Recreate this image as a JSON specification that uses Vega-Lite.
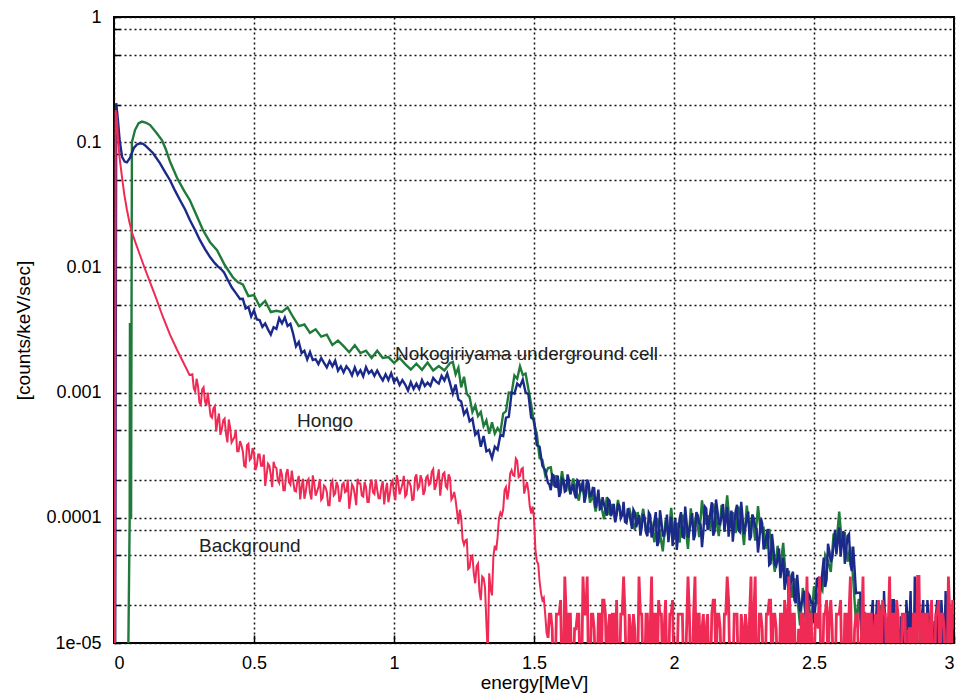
{
"$schema": "https://vega.github.io/schema/vega-lite/v6.json",
"width": 840, "height": 626,
"autosize": {"type": "none"},
"padding": {"left": 114, "top": 17, "right": 12, "bottom": 53},
"background": "white",
"config": {
 "view": {"stroke": "black", "strokeWidth": 2},
 "font": "Liberation Sans",
 "axis": {"labelFont": "Liberation Sans", "titleFont": "Liberation Sans", "labelColor": "black", "titleColor": "black", "titleFontWeight": "normal", "domain": false, "grid": true, "gridColor": "#111", "gridDash": [2, 3], "gridWidth": 1.5, "gridOpacity": 1, "tickColor": "black", "tickWidth": 1.5}
},
"datasets": {
"green": [
{"e":0.045,"c":5e-6},{"e":0.05,"c":5e-6},{"e":0.056,"c":1e-4},{"e":0.057,"c":0.0036},{"e":0.058,"c":1e-4},{"e":0.061,"c":1e-4},{"e":0.064,"c":0.1},{"e":0.075,"c":0.125},{"e":0.088,"c":0.142},{"e":0.1,"c":0.146},{"e":0.115,"c":0.143},{"e":0.129,"c":0.137},{"e":0.15,"c":0.12},{"e":0.171,"c":0.104},{"e":0.185,"c":0.088},{"e":0.2,"c":0.07},{"e":0.225,"c":0.052},{"e":0.25,"c":0.041},{"e":0.271,"c":0.0344},{"e":0.295,"c":0.026},{"e":0.318,"c":0.0198},{"e":0.343,"c":0.0159},{"e":0.368,"c":0.0137},{"e":0.396,"c":0.0104},{"e":0.425,"c":0.0083},{"e":0.443,"c":0.0076},
{"e":0.46,"c":0.0073},{"e":0.48,"c":0.0059},{"e":0.5,"c":0.006},{"e":0.52,"c":0.0049},{"e":0.54,"c":0.0054},{"e":0.56,"c":0.0044},{"e":0.58,"c":0.0045},{"e":0.6,"c":0.0044},{"e":0.62,"c":0.0048},{"e":0.64,"c":0.004},{"e":0.66,"c":0.0034},{"e":0.68,"c":0.0035},{"e":0.7,"c":0.003},{"e":0.72,"c":0.0032},{"e":0.74,"c":0.0028},{"e":0.76,"c":0.0029},{"e":0.78,"c":0.0024},{"e":0.8,"c":0.0026},{"e":0.82,"c":0.00235},{"e":0.84,"c":0.0021},{"e":0.86,"c":0.00239},{"e":0.88,"c":0.00207},{"e":0.9,"c":0.00216},{"e":0.92,"c":0.00189},{"e":0.94,"c":0.00216},{"e":0.96,"c":0.00189},{"e":0.98,"c":0.00192},{"e":1.0,"c":0.00173},{"e":1.02,"c":0.00189},{"e":1.04,"c":0.00169},{"e":1.06,"c":0.00153},{"e":1.08,"c":0.0017},{"e":1.1,"c":0.00152},{"e":1.12,"c":0.00174},{"e":1.14,"c":0.0015},{"e":1.16,"c":0.00163},{"e":1.18,"c":0.0015},{"e":1.2,"c":0.00172},
{"e":1.21,"c":0.00176},{"e":1.22,"c":0.0014},{"e":1.23,"c":0.00158},{"e":1.24,"c":0.0011},{"e":1.25,"c":0.00134},{"e":1.26,"c":0.00098},{"e":1.27,"c":0.00092},{"e":1.28,"c":0.0007},{"e":1.29,"c":0.00079},{"e":1.3,"c":0.00065},{"e":1.31,"c":0.0007},{"e":1.32,"c":0.00054},{"e":1.33,"c":0.0006},{"e":1.34,"c":0.00047},{"e":1.35,"c":0.00058},{"e":1.36,"c":0.00047},{"e":1.37,"c":0.00052},{"e":1.38,"c":0.00048},{"e":1.39,"c":0.00068},{"e":1.4,"c":0.00071},{"e":1.41,"c":0.001},{"e":1.42,"c":0.00099},{"e":1.43,"c":0.00137},{"e":1.44,"c":0.00129},{"e":1.45,"c":0.00162},{"e":1.46,"c":0.00138},{"e":1.47,"c":0.00142},{"e":1.48,"c":0.00107},{"e":1.49,"c":0.0008},{"e":1.5,"c":0.00057},{"e":1.51,"c":0.00047},{"e":1.52,"c":0.0003},{"e":1.53,"c":0.00029},{"e":1.54,"c":0.00022},{"e":1.55,"c":0.00025},
{"e":1.56,"c":0.000253},{"e":1.57,"c":0.000179},{"e":1.58,"c":0.000219},{"e":1.59,"c":0.00016},{"e":1.6,"c":0.000236},{"e":1.61,"c":0.000175},{"e":1.62,"c":0.00019},{"e":1.63,"c":0.000155},{"e":1.64,"c":0.000206},{"e":1.65,"c":0.000167},{"e":1.66,"c":0.000137},{"e":1.67,"c":0.000189},{"e":1.68,"c":0.000148},{"e":1.69,"c":0.000198},{"e":1.7,"c":0.000132},{"e":1.71,"c":0.000152},{"e":1.72,"c":0.000112},{"e":1.73,"c":0.000149},{"e":1.74,"c":0.000125},{"e":1.75,"c":0.0000975},{"e":1.76,"c":0.000146},{"e":1.77,"c":0.000105},{"e":1.78,"c":0.000129},{"e":1.79,"c":0.0000944},{"e":1.8,"c":0.000139},{"e":1.81,"c":0.000103},{"e":1.82,"c":0.000112},{"e":1.83,"c":0.0000913},{"e":1.84,"c":0.00012},{"e":1.85,"c":0.0000977},{"e":1.86,"c":0.0000803},{"e":1.87,"c":0.000111},{"e":1.88,"c":0.000088},{"e":1.89,"c":0.000118},{"e":1.9,"c":0.00008},
{"e":1.91,"c":0.0000774},{"e":1.92,"c":0.000088},{"e":1.93,"c":0.0000638},{"e":1.94,"c":0.0000996},{"e":1.95,"c":0.0000747},{"e":1.96,"c":0.000054},{"e":1.97,"c":0.0000966},{"e":1.98,"c":0.0000697},{"e":1.99,"c":0.00012},{"e":2.0,"c":0.0000671},{"e":2.01,"c":0.0000914},{"e":2.02,"c":0.0000634},{"e":2.03,"c":0.000106},{"e":2.04,"c":0.0000874},{"e":2.05,"c":0.0000564},{"e":2.06,"c":0.000119},{"e":2.07,"c":0.0000776},{"e":2.08,"c":0.000109},{"e":2.09,"c":0.00007},{"e":2.1,"c":0.000138},{"e":2.11,"c":0.0000884},{"e":2.12,"c":0.000105},{"e":2.13,"c":0.0000803},{"e":2.14,"c":0.00013},{"e":2.15,"c":0.000099},{"e":2.16,"c":0.0000715},{"e":2.17,"c":0.000127},{"e":2.18,"c":0.0000894},{"e":2.19,"c":0.000151},{"e":2.2,"c":0.0000835},{"e":2.21,"c":0.000111},{"e":2.22,"c":0.0000756},{"e":2.23,"c":0.000123},{"e":2.24,"c":0.0000979},{"e":2.25,"c":0.0000606},{"e":2.26,"c":0.000125},{"e":2.27,"c":0.0000784},{"e":2.28,"c":0.000106},{"e":2.29,"c":0.0000658},{"e":2.3,"c":0.000124},{"e":2.31,"c":0.0000765},{"e":2.32,"c":0.000082},{"e":2.33,"c":0.0000563},{"e":2.34,"c":0.0000816},{"e":2.35,"c":0.0000558},{"e":2.36,"c":0.000037},{"e":2.37,"c":0.0000598},{"e":2.38,"c":0.0000402},{"e":2.39,"c":0.000063},{"e":2.4,"c":0.0000312},{"e":2.41,"c":0.0000378},{"e":2.42,"c":0.000023},{"e":2.43,"c":0.000033},{"e":2.44,"c":0.0000238},{"e":2.45,"c":0.0000138},{"e":2.46,"c":0.0000275},{"e":2.47,"c":0.0000168},{"e":2.48,"c":0.000022},{"e":2.49,"c":0.000014},{"e":2.5,"c":0.0000284},{"e":2.51,"c":0.0000204},{"e":2.52,"c":0.000029},{"e":2.53,"c":0.0000263},{"e":2.54,"c":0.0000504},{"e":2.55,"c":0.000045},{"e":2.56,"c":0.000037},{"e":2.57,"c":0.0000748},{"e":2.58,"c":0.0000615},{"e":2.59,"c":0.000112},{"e":2.6,"c":0.0000608},{"e":2.61,"c":0.0000767},{"e":2.62,"c":0.0000446},{"e":2.63,"c":0.000059},{"e":2.64,"c":0.0000323},{"e":2.65,"c":0.0000144},{"e":2.66,"c":0.0000225},{"e":2.67,"c":0.0000112},{"e":2.68,"c":0.0000143},
{"e":2.69,"c":1.2e-5},{"e":2.7,"c":5e-6},{"e":2.71,"c":1.5e-5},{"e":2.72,"c":5e-6},{"e":2.73,"c":1.2e-5},{"e":2.74,"c":2e-5},{"e":2.75,"c":5e-6},{"e":2.76,"c":5e-6},{"e":2.77,"c":1.2e-5},{"e":2.78,"c":5e-6},{"e":2.79,"c":1.5e-5},{"e":2.8,"c":5e-6},{"e":2.81,"c":1.2e-5},{"e":2.82,"c":5e-6},{"e":2.83,"c":5e-6},{"e":2.84,"c":1.8e-5},{"e":2.85,"c":5e-6},{"e":2.86,"c":1.2e-5},{"e":2.87,"c":5e-6},{"e":2.88,"c":1.5e-5},{"e":2.89,"c":5e-6},{"e":2.9,"c":5e-6},{"e":2.91,"c":1.2e-5},{"e":2.92,"c":5e-6},{"e":2.93,"c":1.5e-5},{"e":2.94,"c":5e-6},{"e":2.95,"c":1.2e-5},{"e":2.96,"c":5e-6},{"e":2.97,"c":2e-5},{"e":2.98,"c":5e-6},{"e":2.99,"c":1.2e-5},{"e":3.0,"c":5e-6}
],
"blue": [
{"e":0.004,"c":5e-6},{"e":0.008,"c":0.205},{"e":0.014,"c":0.15},{"e":0.02,"c":0.105},{"e":0.029,"c":0.076},{"e":0.038,"c":0.07},{"e":0.046,"c":0.069},{"e":0.057,"c":0.075},{"e":0.071,"c":0.09},{"e":0.082,"c":0.096},{"e":0.093,"c":0.098},{"e":0.104,"c":0.097},{"e":0.114,"c":0.093},{"e":0.139,"c":0.082},{"e":0.164,"c":0.068},{"e":0.182,"c":0.058},{"e":0.2,"c":0.0497},{"e":0.218,"c":0.041},{"e":0.236,"c":0.0344},{"e":0.254,"c":0.029},{"e":0.271,"c":0.0239},{"e":0.289,"c":0.02},{"e":0.307,"c":0.0165},{"e":0.325,"c":0.014},{"e":0.343,"c":0.0121},{"e":0.36,"c":0.0108},{"e":0.371,"c":0.0102},{"e":0.382,"c":0.0097},{"e":0.393,"c":0.0091},{"e":0.407,"c":0.0079},{"e":0.421,"c":0.0069},{"e":0.436,"c":0.0062},{"e":0.45,"c":0.0056},
{"e":0.46,"c":0.00562},{"e":0.47,"c":0.0047},{"e":0.48,"c":0.00484},{"e":0.49,"c":0.00405},{"e":0.5,"c":0.00454},{"e":0.51,"c":0.00384},{"e":0.52,"c":0.0038},{"e":0.53,"c":0.00335},{"e":0.54,"c":0.00357},{"e":0.55,"c":0.0032},{"e":0.56,"c":0.00291},{"e":0.57,"c":0.00333},{"e":0.58,"c":0.00323},{"e":0.59,"c":0.00392},{"e":0.6,"c":0.00357},{"e":0.61,"c":0.00398},{"e":0.62,"c":0.0034},{"e":0.63,"c":0.00354},{"e":0.64,"c":0.00294},{"e":0.65,"c":0.00234},{"e":0.66,"c":0.00254},{"e":0.67,"c":0.00207},{"e":0.68,"c":0.00216},{"e":0.69,"c":0.00184},{"e":0.7,"c":0.00211},{"e":0.71,"c":0.00182},{"e":0.72,"c":0.00185},{"e":0.73,"c":0.00169},{"e":0.74,"c":0.00189},{"e":0.75,"c":0.00173},{"e":0.76,"c":0.00159},{"e":0.77,"c":0.00179},{"e":0.78,"c":0.00162},{"e":0.79,"c":0.0018},{"e":0.8,"c":0.0015},{"e":0.81,"c":0.00162},{"e":0.82,"c":0.00145},{"e":0.83,"c":0.00162},{"e":0.84,"c":0.00152},{"e":0.85,"c":0.00137},{"e":0.86,"c":0.00159},{"e":0.87,"c":0.00139},{"e":0.88,"c":0.00151},{"e":0.89,"c":0.00135},{"e":0.9,"c":0.0016},{"e":0.91,"c":0.00143},{"e":0.92,"c":0.0015},{"e":0.93,"c":0.00136},{"e":0.94,"c":0.0015},{"e":0.95,"c":0.00136},{"e":0.96,"c":0.00125},{"e":0.97,"c":0.0014},{"e":0.98,"c":0.00126},{"e":0.99,"c":0.00143},{"e":1.0,"c":0.00122},{"e":1.01,"c":0.0013},{"e":1.02,"c":0.00115},{"e":1.03,"c":0.00126},{"e":1.04,"c":0.00116},{"e":1.05,"c":0.00104},{"e":1.06,"c":0.00121},{"e":1.07,"c":0.00107},{"e":1.08,"c":0.00118},{"e":1.09,"c":0.00107},{"e":1.1,"c":0.00126},{"e":1.11,"c":0.00113},{"e":1.12,"c":0.0012},{"e":1.13,"c":0.00113},{"e":1.14,"c":0.00131},{"e":1.15,"c":0.00123},{"e":1.16,"c":0.00118},{"e":1.17,"c":0.00136},{"e":1.18,"c":0.00125},{"e":1.19,"c":0.00142},{"e":1.2,"c":0.00119},
{"e":1.21,"c":0.00098},{"e":1.22,"c":0.00116},{"e":1.23,"c":0.00088},{"e":1.24,"c":0.00085},{"e":1.25,"c":0.00067},{"e":1.26,"c":0.00073},{"e":1.27,"c":0.00059},{"e":1.28,"c":0.00062},{"e":1.29,"c":0.00046},{"e":1.3,"c":0.00049},{"e":1.31,"c":0.00037},{"e":1.32,"c":0.00045},{"e":1.33,"c":0.00034},{"e":1.34,"c":0.00035},{"e":1.35,"c":0.0003},{"e":1.36,"c":0.00037},{"e":1.37,"c":0.00035},{"e":1.38,"c":0.00046},{"e":1.39,"c":0.00045},{"e":1.4,"c":0.00063},{"e":1.41,"c":0.00064},{"e":1.42,"c":0.001},{"e":1.43,"c":0.00098},{"e":1.44,"c":0.00118},{"e":1.45,"c":0.00112},{"e":1.46,"c":0.00127},{"e":1.47,"c":0.001},{"e":1.48,"c":0.00097},{"e":1.49,"c":0.00063},{"e":1.5,"c":0.00061},{"e":1.51,"c":0.00038},{"e":1.52,"c":0.00037},{"e":1.53,"c":0.00026},{"e":1.54,"c":0.00024},{"e":1.55,"c":0.00019},
{"e":1.56,"c":0.000166},{"e":1.57,"c":0.000218},{"e":1.58,"c":0.000177},{"e":1.59,"c":0.000147},{"e":1.6,"c":0.000205},{"e":1.61,"c":0.000162},{"e":1.62,"c":0.000222},{"e":1.63,"c":0.000154},{"e":1.64,"c":0.000185},{"e":1.65,"c":0.000143},{"e":1.66,"c":0.000196},{"e":1.67,"c":0.000168},{"e":1.68,"c":0.000132},{"e":1.69,"c":0.000202},{"e":1.7,"c":0.000149},{"e":1.71,"c":0.000173},{"e":1.72,"c":0.00012},{"e":1.73,"c":0.000168},{"e":1.74,"c":0.000119},{"e":1.75,"c":0.000128},{"e":1.76,"c":0.000104},{"e":1.77,"c":0.000137},{"e":1.78,"c":0.000112},{"e":1.79,"c":0.000092},{"e":1.8,"c":0.000128},{"e":1.81,"c":0.0000994},{"e":1.82,"c":0.000134},{"e":1.83,"c":0.000091},{"e":1.84,"c":0.000108},{"e":1.85,"c":0.0000816},{"e":1.86,"c":0.00011},{"e":1.87,"c":0.0000931},{"e":1.88,"c":0.000072},{"e":1.89,"c":0.000107},{"e":1.9,"c":0.0000765},
{"e":1.91,"c":0.00011},{"e":1.92,"c":0.0000696},{"e":1.93,"c":0.0000946},{"e":1.94,"c":0.0000595},{"e":1.95,"c":0.000115},{"e":1.96,"c":0.0000723},{"e":1.97,"c":0.000085},{"e":1.98,"c":0.0000638},{"e":1.99,"c":0.000102},{"e":2.0,"c":0.0000765},{"e":2.01,"c":0.0000553},{"e":2.02,"c":0.0000978},{"e":2.03,"c":0.0000705},{"e":2.04,"c":0.000123},{"e":2.05,"c":0.0000694},{"e":2.06,"c":0.0000945},{"e":2.07,"c":0.0000662},{"e":2.08,"c":0.000111},{"e":2.09,"c":0.0000903},{"e":2.1,"c":0.0000582},{"e":2.11,"c":0.000123},{"e":2.12,"c":0.00008},{"e":2.13,"c":0.000111},{"e":2.14,"c":0.0000721},{"e":2.15,"c":0.00014},{"e":2.16,"c":0.0000893},{"e":2.17,"c":0.000104},{"e":2.18,"c":0.0000773},{"e":2.19,"c":0.000122},{"e":2.2,"c":0.00009},{"e":2.21,"c":0.0000644},{"e":2.22,"c":0.000113},{"e":2.23,"c":0.0000795},{"e":2.24,"c":0.000134},{"e":2.25,"c":0.0000741},{"e":2.26,"c":0.0000987},{"e":2.27,"c":0.0000662},{"e":2.28,"c":0.000106},{"e":2.29,"c":0.0000846},{"e":2.3,"c":0.0000528},{"e":2.31,"c":0.0001},{"e":2.32,"c":0.000056},{"e":2.33,"c":0.0000715},{"e":2.34,"c":0.000042},{"e":2.35,"c":0.0000743},{"e":2.36,"c":0.0000425},{"e":2.37,"c":0.000047},{"e":2.38,"c":0.000033},{"e":2.39,"c":0.000048},{"e":2.4,"c":0.0000324},{"e":2.41,"c":0.0000215},{"e":2.42,"c":0.0000345},{"e":2.43,"c":0.0000221},{"e":2.44,"c":0.000035},{"e":2.45,"c":0.0000179},{"e":2.46,"c":0.0000231},{"e":2.47,"c":0.0000155},{"e":2.48,"c":0.0000248},{"e":2.49,"c":0.0000209},{"e":2.5,"c":0.0000144},{"e":2.51,"c":0.0000325},{"e":2.52,"c":0.0000232},{"e":2.53,"c":0.0000374},{"e":2.54,"c":0.000028},{"e":2.55,"c":0.0000621},{"e":2.56,"c":0.0000442},{"e":2.57,"c":0.00006},{"e":2.58,"c":0.000051},{"e":2.59,"c":0.000084},{"e":2.6,"c":0.000063},{"e":2.61,"c":0.0000429},{"e":2.62,"c":0.0000713},{"e":2.63,"c":0.0000426},{"e":2.64,"c":0.0000588},{"e":2.65,"c":0.000025},{"e":2.66,"c":0.0000252},{"e":2.67,"c":0.000013},{"e":2.68,"c":0.0000177},
{"e":2.69,"c":1.3e-5},{"e":2.7,"c":5e-6},{"e":2.71,"c":2.2e-5},{"e":2.72,"c":1.3e-5},{"e":2.73,"c":5e-6},{"e":2.74,"c":1.6e-5},{"e":2.75,"c":2.6e-5},{"e":2.76,"c":5e-6},{"e":2.77,"c":1.3e-5},{"e":2.78,"c":2.2e-5},{"e":2.79,"c":5e-6},{"e":2.8,"c":1.3e-5},{"e":2.81,"c":1.6e-5},{"e":2.82,"c":5e-6},{"e":2.83,"c":2.2e-5},{"e":2.84,"c":1.3e-5},{"e":2.85,"c":5e-6},{"e":2.86,"c":3.4e-5},{"e":2.87,"c":5e-6},{"e":2.88,"c":1.3e-5},{"e":2.89,"c":2.2e-5},{"e":2.9,"c":5e-6},{"e":2.91,"c":1.6e-5},{"e":2.92,"c":1.3e-5},{"e":2.93,"c":5e-6},{"e":2.94,"c":2.2e-5},{"e":2.95,"c":5e-6},{"e":2.96,"c":1.3e-5},{"e":2.97,"c":2.6e-5},{"e":2.98,"c":5e-6},{"e":2.99,"c":1.6e-5},{"e":3.0,"c":1.3e-5},
{"e":1.555,"c":0.000185},{"e":1.565,"c":0.000222},{"e":1.575,"c":0.000178},{"e":1.585,"c":0.000217},{"e":1.595,"c":0.000159},{"e":1.605,"c":0.0002},{"e":1.615,"c":0.000165},{"e":1.625,"c":0.0002},{"e":1.635,"c":0.000171},{"e":1.645,"c":0.000155},{"e":1.655,"c":0.0002},{"e":1.665,"c":0.000163},{"e":1.675,"c":0.000202},{"e":1.685,"c":0.00015},{"e":1.695,"c":0.000189},{"e":1.705,"c":0.000151},{"e":1.715,"c":0.000172},{"e":1.725,"c":0.000138},{"e":1.735,"c":0.000117},{"e":1.745,"c":0.000146},{"e":1.755,"c":0.000116},{"e":1.765,"c":0.000141},{"e":1.775,"c":0.000103},{"e":1.785,"c":0.000129},{"e":1.795,"c":0.000105},{"e":1.805,"c":0.000125},{"e":1.815,"c":0.000105},{"e":1.825,"c":0.0000929},{"e":1.835,"c":0.000119},{"e":1.845,"c":0.0000948},{"e":1.855,"c":0.000116},{"e":1.865,"c":0.0000842},{"e":1.875,"c":0.000105},{"e":1.885,"c":0.0000846},{"e":1.895,"c":0.0001},{"e":1.905,"c":0.0000712},
{"e":1.915,"c":0.000105},{"e":1.925,"c":0.0000779},{"e":1.935,"c":0.000111},{"e":1.945,"c":0.0000638},{"e":1.955,"c":0.0000935},{"e":1.965,"c":0.0000723},{"e":1.975,"c":0.000106},{"e":1.985,"c":0.0000808},{"e":1.995,"c":0.0000595},{"e":2.005,"c":0.0000978},{"e":2.015,"c":0.0000748},{"e":2.025,"c":0.000111},{"e":2.035,"c":0.0000696},{"e":2.045,"c":0.0000929},{"e":2.055,"c":0.0000806},{"e":2.065,"c":0.000109},{"e":2.075,"c":0.0000725},{"e":2.085,"c":0.000104},{"e":2.095,"c":0.0000883},{"e":2.105,"c":0.000078},{"e":2.115,"c":0.000119},{"e":2.125,"c":0.0000905},{"e":2.135,"c":0.000133},{"e":2.145,"c":0.0000776},{"e":2.155,"c":0.000115},{"e":2.165,"c":0.0000888},{"e":2.175,"c":0.000129},{"e":2.185,"c":0.0000974},{"e":2.195,"c":0.0000707},{"e":2.205,"c":0.000114},{"e":2.215,"c":0.0000867},{"e":2.225,"c":0.000127},{"e":2.235,"c":0.0000772},{"e":2.245,"c":0.0001},{"e":2.255,"c":0.000085},{"e":2.265,"c":0.000112},{"e":2.275,"c":0.000071},{"e":2.285,"c":0.0000985},{"e":2.295,"c":0.0000814},{"e":2.305,"c":0.0000672},{"e":2.315,"c":0.00009},{"e":2.325,"c":0.0000608},{"e":2.335,"c":0.0000813},{"e":2.345,"c":0.0000431},{"e":2.355,"c":0.0000578},{"e":2.365,"c":0.0000412},{"e":2.375,"c":0.0000569},{"e":2.385,"c":0.0000399},{"e":2.395,"c":0.0000266},{"e":2.405,"c":0.0000397},{"e":2.415,"c":0.0000277},{"e":2.425,"c":0.0000371},{"e":2.435,"c":0.0000208},{"e":2.445,"c":0.0000252},{"e":2.455,"c":0.0000203},{"e":2.465,"c":0.0000261},{"e":2.475,"c":0.0000166},{"e":2.485,"c":0.0000237},{"e":2.495,"c":0.0000212},{"e":2.505,"c":0.00002},{"e":2.515,"c":0.000033},{"e":2.525,"c":0.0000284},{"e":2.535,"c":0.0000481},{"e":2.545,"c":0.0000323},{"e":2.555,"c":0.0000539},{"e":2.565,"c":0.0000476},{"e":2.575,"c":0.00008},{"e":2.585,"c":0.0000656},{"e":2.595,"c":0.000049},{"e":2.605,"c":0.0000782},{"e":2.615,"c":0.0000563},{"e":2.625,"c":0.0000741},{"e":2.635,"c":0.0000376},{"e":2.645,"c":0.0000389},{"e":2.655,"c":0.0000252},{"e":2.665,"c":0.0000252},{"e":2.675,"c":0.0000129},{"e":2.685,"c":0.0000154},
{"e":2.695,"c":5e-6},{"e":2.705,"c":1.6e-5},{"e":2.715,"c":5e-6},{"e":2.725,"c":2.2e-5},{"e":2.735,"c":1.3e-5},{"e":2.745,"c":5e-6},{"e":2.755,"c":1.3e-5},{"e":2.765,"c":1.6e-5},{"e":2.775,"c":5e-6},{"e":2.785,"c":2.2e-5},{"e":2.795,"c":1.3e-5},{"e":2.805,"c":5e-6},{"e":2.815,"c":1.6e-5},{"e":2.825,"c":5e-6},{"e":2.835,"c":1.3e-5},{"e":2.845,"c":2.6e-5},{"e":2.855,"c":5e-6},{"e":2.865,"c":1.3e-5},{"e":2.875,"c":5e-6},{"e":2.885,"c":1.6e-5},{"e":2.895,"c":5e-6},{"e":2.905,"c":2.2e-5},{"e":2.915,"c":5e-6},{"e":2.925,"c":1.3e-5},{"e":2.935,"c":1.6e-5},{"e":2.945,"c":5e-6},{"e":2.955,"c":2.2e-5},{"e":2.965,"c":5e-6},{"e":2.975,"c":1.3e-5},{"e":2.985,"c":5e-6},{"e":2.995,"c":1.6e-5}
],
"red": [
{"e":0.003,"c":5e-6},{"e":0.006,"c":0.18},{"e":0.01,"c":0.16},{"e":0.014,"c":0.11},{"e":0.02,"c":0.075},{"e":0.029,"c":0.052},{"e":0.037,"c":0.038},{"e":0.046,"c":0.029},{"e":0.055,"c":0.023},{"e":0.064,"c":0.019},{"e":0.078,"c":0.0155},{"e":0.093,"c":0.0125},{"e":0.11,"c":0.0098},{"e":0.129,"c":0.0076},{"e":0.15,"c":0.0057},{"e":0.175,"c":0.004},{"e":0.2,"c":0.0029},{"e":0.225,"c":0.0022},{"e":0.25,"c":0.0017},{"e":0.27,"c":0.00138},
{"e":0.28,"c":0.0014},{"e":0.29,"c":0.00102},{"e":0.3,"c":0.00113},{"e":0.31,"c":0.0008},{"e":0.32,"c":0.0011},{"e":0.33,"c":0.00079},{"e":0.34,"c":0.0008},{"e":0.35,"c":0.00063},{"e":0.36,"c":0.00078},{"e":0.37,"c":0.0006},{"e":0.38,"c":0.00046},{"e":0.39,"c":0.0006},{"e":0.4,"c":0.00047},{"e":0.41,"c":0.00061},{"e":0.42,"c":0.0004},{"e":0.43,"c":0.00044},{"e":0.44,"c":0.00034},{"e":0.45,"c":0.00041},{"e":0.46,"c":0.00034},{"e":0.47,"c":0.000255},{"e":0.48,"c":0.00039},{"e":0.49,"c":0.0003},{"e":0.5,"c":0.00033},{"e":0.51,"c":0.00026},{"e":0.52,"c":0.00032},{"e":0.53,"c":0.00026},{"e":0.54,"c":0.00018},{"e":0.55,"c":0.00027},{"e":0.56,"c":0.00022},{"e":0.57,"c":0.00028},{"e":0.58,"c":0.00025},{"e":0.59,"c":0.00019},{"e":0.6,"c":0.00022},{"e":0.61,"c":0.000166},{"e":0.62,"c":0.000245},{"e":0.63,"c":0.000184},{"e":0.64,"c":0.000196},{"e":0.65,"c":0.000162},{"e":0.66,"c":0.000216},{"e":0.67,"c":0.000176},{"e":0.68,"c":0.000142},{"e":0.69,"c":0.000197},{"e":0.7,"c":0.000158},{"e":0.71,"c":0.000218},{"e":0.72,"c":0.00015},{"e":0.73,"c":0.000175},{"e":0.74,"c":0.000139},{"e":0.75,"c":0.000181},{"e":0.76,"c":0.000161},{"e":0.77,"c":0.000126},{"e":0.78,"c":0.000198},{"e":0.79,"c":0.000156},{"e":0.8,"c":0.000178},{"e":0.81,"c":0.000144},{"e":0.82,"c":0.00019},{"e":0.83,"c":0.000163},{"e":0.84,"c":0.000118},{"e":0.85,"c":0.000185},{"e":0.86,"c":0.000153},{"e":0.87,"c":0.000205},{"e":0.88,"c":0.000188},{"e":0.89,"c":0.000148},{"e":0.9,"c":0.000176},{"e":0.91,"c":0.000134},{"e":0.92,"c":0.000202},{"e":0.93,"c":0.000155},{"e":0.94,"c":0.000168},{"e":0.95,"c":0.000143},{"e":0.96,"c":0.000196},{"e":0.97,"c":0.000162},{"e":0.98,"c":0.000133},{"e":0.99,"c":0.000189},{"e":1.0,"c":0.000155},{"e":1.01,"c":0.000219},{"e":1.02,"c":0.000154},{"e":1.03,"c":0.000185},{"e":1.04,"c":0.000148},{"e":1.05,"c":0.000197},{"e":1.06,"c":0.000178},{"e":1.07,"c":0.00014},{"e":1.08,"c":0.000222},{"e":1.09,"c":0.000177},{"e":1.1,"c":0.000201},{"e":1.11,"c":0.000164},{"e":1.12,"c":0.000217},{"e":1.13,"c":0.000188},{"e":1.14,"c":0.000245},{"e":1.15,"c":0.00018},{"e":1.16,"c":0.000244},{"e":1.17,"c":0.00019},{"e":1.18,"c":0.00023},{"e":1.19,"c":0.000172},{"e":1.2,"c":0.000209},{"e":1.21,"c":0.000147},{"e":1.22,"c":0.000139},{"e":1.23,"c":0.000089},{"e":1.24,"c":0.0001},{"e":1.25,"c":0.000061},{"e":1.26,"c":0.000067},{"e":1.27,"c":0.00004},{"e":1.28,"c":0.00005},{"e":1.29,"c":0.00003},{"e":1.3,"c":0.000043},{"e":1.31,"c":0.000022},{"e":1.32,"c":0.000033},{"e":1.33,"c":0.0000145},{"e":1.335,"c":0.000008},{"e":1.34,"c":0.000036},{"e":1.35,"c":0.000024},{"e":1.36,"c":0.00006},{"e":1.37,"c":0.00007},{"e":1.38,"c":0.00011},{"e":1.39,"c":0.000117},{"e":1.4,"c":0.000176},{"e":1.41,"c":0.000167},{"e":1.42,"c":0.00024},{"e":1.43,"c":0.000216},{"e":1.44,"c":0.000287},{"e":1.45,"c":0.000216},{"e":1.46,"c":0.00025},{"e":1.47,"c":0.000175},{"e":1.48,"c":0.000163},{"e":1.49,"c":0.000108},{"e":1.5,"c":0.0001},{"e":1.51,"c":0.000045},{"e":1.52,"c":0.000031},{"e":1.53,"c":0.000022},{"e":1.54,"c":0.000017},{"e":1.55,"c":0.000011},
{"e":0.285,"c":0.00108},{"e":0.295,"c":0.00129},{"e":0.305,"c":0.00083},{"e":0.315,"c":0.00106},{"e":0.325,"c":0.00085},{"e":0.335,"c":0.001},{"e":0.345,"c":0.00065},{"e":0.355,"c":0.00075},{"e":0.365,"c":0.00049},{"e":0.375,"c":0.00068},{"e":0.385,"c":0.00051},{"e":0.395,"c":0.00062},{"e":0.405,"c":0.0004},{"e":0.415,"c":0.00052},{"e":0.425,"c":0.00042},{"e":0.435,"c":0.0005},{"e":0.445,"c":0.00034},{"e":0.455,"c":0.00038},{"e":0.465,"c":0.00026},{"e":0.475,"c":0.00038},{"e":0.485,"c":0.00029},{"e":0.495,"c":0.00036},{"e":0.505,"c":0.00024},{"e":0.515,"c":0.00032},{"e":0.525,"c":0.00026},{"e":0.535,"c":0.00032},{"e":0.545,"c":0.00022},{"e":0.555,"c":0.00026},{"e":0.565,"c":0.000176},{"e":0.575,"c":0.000255},{"e":0.585,"c":0.0002},{"e":0.595,"c":0.000246},{"e":0.605,"c":0.000166},{"e":0.615,"c":0.000226},{"e":0.625,"c":0.000192},{"e":0.635,"c":0.000238},{"e":0.645,"c":0.000164},{"e":0.655,"c":0.000198},{"e":0.665,"c":0.00014},{"e":0.675,"c":0.000205},{"e":0.685,"c":0.000162},{"e":0.695,"c":0.000204},{"e":0.705,"c":0.00014},{"e":0.715,"c":0.00019},{"e":0.725,"c":0.000162},{"e":0.735,"c":0.000204},{"e":0.745,"c":0.000144},{"e":0.755,"c":0.000176},{"e":0.765,"c":0.000126},{"e":0.775,"c":0.000188},{"e":0.785,"c":0.000151},{"e":0.795,"c":0.000193},{"e":0.805,"c":0.000134},{"e":0.815,"c":0.000185},{"e":0.825,"c":0.00016},{"e":0.835,"c":0.000202},{"e":0.845,"c":0.000143},{"e":0.855,"c":0.000176},{"e":0.865,"c":0.000126},{"e":0.875,"c":0.000188},{"e":0.885,"c":0.000151},{"e":0.895,"c":0.000193},{"e":0.905,"c":0.000134},{"e":0.915,"c":0.000185},{"e":0.925,"c":0.00016},{"e":0.935,"c":0.000202},{"e":0.945,"c":0.000143},{"e":0.955,"c":0.000177},{"e":0.965,"c":0.000128},{"e":0.975,"c":0.00019},{"e":0.985,"c":0.000154},{"e":0.995,"c":0.000198},{"e":1.005,"c":0.000138},{"e":1.015,"c":0.000194},{"e":1.025,"c":0.000169},{"e":1.035,"c":0.000216},{"e":1.045,"c":0.000154},{"e":1.055,"c":0.000192},{"e":1.065,"c":0.000139},{"e":1.075,"c":0.000209},{"e":1.085,"c":0.00017},{"e":1.095,"c":0.000219},{"e":1.105,"c":0.000152},{"e":1.115,"c":0.00021},{"e":1.125,"c":0.000183},{"e":1.135,"c":0.000234},{"e":1.145,"c":0.000167},{"e":1.155,"c":0.000209},{"e":1.165,"c":0.00015},{"e":1.175,"c":0.000224},{"e":1.185,"c":0.000178},{"e":1.195,"c":0.000222},{"e":1.205,"c":0.00014},{"e":1.215,"c":0.000161},{"e":1.225,"c":0.000112},{"e":1.235,"c":0.000116},{"e":1.245,"c":0.000067},{"e":1.255,"c":0.000066},{"e":1.265,"c":0.000039},{"e":1.275,"c":0.000049},{"e":1.285,"c":0.000036},{"e":1.295,"c":0.000041},{"e":1.305,"c":0.000026},{"e":1.315,"c":0.000034},{"e":1.325,"c":0.000028},{"e":1.345,"c":0.000027},{"e":1.355,"c":0.000049},{"e":1.365,"c":0.000055},{"e":1.375,"c":0.0001},{"e":1.385,"c":0.000104},{"e":1.395,"c":0.000167},{"e":1.405,"c":0.00014},{"e":1.415,"c":0.000226},{"e":1.425,"c":0.000219},{"e":1.435,"c":0.000298},{"e":1.445,"c":0.000211},{"e":1.455,"c":0.000245},{"e":1.465,"c":0.000156},{"e":1.475,"c":0.000193},{"e":1.485,"c":0.000123},{"e":1.495,"c":0.000123},{"e":1.505,"c":0.000056},{"e":1.515,"c":0.000043},{"e":1.525,"c":0.000025},{"e":1.535,"c":0.000023},{"e":1.545,"c":0.000012},
{"e":1.56,"c":1.7e-5},{"e":1.57,"c":5e-6},{"e":1.58,"c":1.7e-5},{"e":1.59,"c":1.7e-5},{"e":1.6,"c":5e-6},{"e":1.61,"c":3.4e-5},{"e":1.62,"c":5e-6},{"e":1.63,"c":1.7e-5},{"e":1.64,"c":5e-6},{"e":1.65,"c":1.3e-5},
{"e":1.66,"c":1.7e-5},{"e":1.67,"c":5e-6},{"e":1.68,"c":1.7e-5},{"e":1.69,"c":3.4e-5},{"e":1.7,"c":5e-6},{"e":1.71,"c":1.7e-5},{"e":1.72,"c":5e-6},{"e":1.73,"c":1.7e-5},{"e":1.74,"c":5e-6},{"e":1.75,"c":2.2e-5},
{"e":1.76,"c":5e-6},{"e":1.77,"c":1.7e-5},{"e":1.78,"c":1.7e-5},{"e":1.79,"c":5e-6},{"e":1.8,"c":5e-6},{"e":1.81,"c":1.7e-5},{"e":1.82,"c":3.4e-5},{"e":1.83,"c":5e-6},{"e":1.84,"c":1.7e-5},{"e":1.85,"c":5e-6},
{"e":1.86,"c":1.3e-5},{"e":1.87,"c":5e-6},{"e":1.88,"c":1.7e-5},{"e":1.89,"c":5e-6},{"e":1.9,"c":1.7e-5},{"e":1.91,"c":5e-6},{"e":1.92,"c":3.4e-5},{"e":1.93,"c":1.7e-5},{"e":1.94,"c":5e-6},{"e":1.95,"c":1.7e-5},
{"e":1.96,"c":5e-6},{"e":1.97,"c":2.2e-5},{"e":1.98,"c":5e-6},{"e":1.99,"c":1.7e-5},{"e":2.0,"c":5e-6},{"e":2.01,"c":5e-6},{"e":2.02,"c":1.7e-5},{"e":2.03,"c":1.7e-5},{"e":2.04,"c":5e-6},{"e":2.05,"c":3.4e-5},
{"e":2.06,"c":5e-6},{"e":2.07,"c":1.7e-5},{"e":2.08,"c":5e-6},{"e":2.09,"c":1.7e-5},{"e":2.1,"c":1.3e-5},{"e":2.11,"c":5e-6},{"e":2.12,"c":1.7e-5},{"e":2.13,"c":5e-6},{"e":2.14,"c":2.2e-5},{"e":2.15,"c":5e-6},
{"e":2.16,"c":1.7e-5},{"e":2.17,"c":5e-6},{"e":2.18,"c":1.7e-5},{"e":2.19,"c":3.4e-5},{"e":2.2,"c":5e-6},{"e":2.21,"c":5e-6},{"e":2.22,"c":1.7e-5},{"e":2.23,"c":5e-6},{"e":2.24,"c":1.7e-5},{"e":2.25,"c":5e-6},
{"e":2.26,"c":1.3e-5},{"e":2.27,"c":1.7e-5},{"e":2.28,"c":5e-6},{"e":2.29,"c":3.4e-5},{"e":2.3,"c":5e-6},{"e":2.31,"c":1.7e-5},{"e":2.32,"c":5e-6},{"e":2.33,"c":1.7e-5},{"e":2.34,"c":2.2e-5},{"e":2.35,"c":5e-6},
{"e":2.36,"c":1.7e-5},{"e":2.37,"c":5e-6},{"e":2.38,"c":1.7e-5},{"e":2.39,"c":5e-6},{"e":2.4,"c":1.7e-5},{"e":2.41,"c":3.4e-5},{"e":2.42,"c":5e-6},{"e":2.43,"c":1.7e-5},{"e":2.44,"c":5e-6},{"e":2.45,"c":5e-6},
{"e":2.46,"c":1.7e-5},{"e":2.47,"c":1.3e-5},{"e":2.48,"c":5e-6},{"e":2.49,"c":1.7e-5},{"e":2.5,"c":5e-6},{"e":2.51,"c":1.7e-5},{"e":2.52,"c":3.4e-5},{"e":2.53,"c":5e-6},{"e":2.54,"c":1.7e-5},{"e":2.55,"c":5e-6},
{"e":2.56,"c":2.2e-5},{"e":2.57,"c":5e-6},{"e":2.58,"c":1.7e-5},{"e":2.59,"c":1.7e-5},{"e":2.6,"c":5e-6},{"e":2.61,"c":1.7e-5},{"e":2.62,"c":5e-6},{"e":2.63,"c":3.4e-5},{"e":2.64,"c":5e-6},{"e":2.65,"c":1.7e-5},
{"e":2.66,"c":5e-6},{"e":2.67,"c":1.3e-5},{"e":2.68,"c":5e-6},{"e":2.69,"c":1.7e-5},{"e":2.7,"c":1.7e-5},{"e":2.71,"c":5e-6},{"e":2.72,"c":1.7e-5},{"e":2.73,"c":2.2e-5},{"e":2.74,"c":5e-6},{"e":2.75,"c":1.7e-5},
{"e":2.76,"c":5e-6},{"e":2.77,"c":3.4e-5},{"e":2.78,"c":1.7e-5},{"e":2.79,"c":5e-6},{"e":2.8,"c":1.7e-5},{"e":2.81,"c":5e-6},{"e":2.82,"c":1.7e-5},{"e":2.83,"c":5e-6},{"e":2.84,"c":1.3e-5},{"e":2.85,"c":5e-6},
{"e":2.86,"c":1.7e-5},{"e":2.87,"c":3.4e-5},{"e":2.88,"c":5e-6},{"e":2.89,"c":1.7e-5},{"e":2.9,"c":1.7e-5},{"e":2.91,"c":5e-6},{"e":2.92,"c":2.2e-5},{"e":2.93,"c":5e-6},{"e":2.94,"c":1.7e-5},{"e":2.95,"c":5e-6},
{"e":2.96,"c":1.7e-5},{"e":2.97,"c":5e-6},{"e":2.98,"c":3.4e-5},{"e":2.99,"c":5e-6},{"e":3.0,"c":1.7e-5},
{"e":1.555,"c":1.7e-5},{"e":1.565,"c":1.3e-5},{"e":1.575,"c":5e-6},{"e":1.585,"c":1.7e-5},{"e":1.595,"c":2.2e-5},{"e":1.605,"c":5e-6},{"e":1.615,"c":1.7e-5},{"e":1.625,"c":1.7e-5},{"e":1.635,"c":5e-6},{"e":1.645,"c":1.3e-5},{"e":1.655,"c":1.7e-5},{"e":1.665,"c":5e-6},{"e":1.675,"c":3.4e-5},{"e":1.685,"c":1.7e-5},{"e":1.695,"c":5e-6},{"e":1.705,"c":1.7e-5},{"e":1.715,"c":1.3e-5},{"e":1.725,"c":5e-6},{"e":1.735,"c":1.7e-5},{"e":1.745,"c":2.2e-5},
{"e":1.755,"c":1.7e-5},{"e":1.765,"c":1.3e-5},{"e":1.775,"c":5e-6},{"e":1.785,"c":1.7e-5},{"e":1.795,"c":2.2e-5},{"e":1.805,"c":5e-6},{"e":1.815,"c":1.7e-5},{"e":1.825,"c":1.7e-5},{"e":1.835,"c":5e-6},{"e":1.845,"c":1.3e-5},{"e":1.855,"c":1.7e-5},{"e":1.865,"c":5e-6},{"e":1.875,"c":3.4e-5},{"e":1.885,"c":1.7e-5},{"e":1.895,"c":5e-6},{"e":1.905,"c":1.7e-5},{"e":1.915,"c":1.3e-5},{"e":1.925,"c":5e-6},{"e":1.935,"c":1.7e-5},{"e":1.945,"c":2.2e-5},
{"e":1.955,"c":1.7e-5},{"e":1.965,"c":1.3e-5},{"e":1.975,"c":5e-6},{"e":1.985,"c":1.7e-5},{"e":1.995,"c":2.2e-5},{"e":2.005,"c":5e-6},{"e":2.015,"c":1.7e-5},{"e":2.025,"c":1.7e-5},{"e":2.035,"c":5e-6},{"e":2.045,"c":1.3e-5},{"e":2.055,"c":1.7e-5},{"e":2.065,"c":5e-6},{"e":2.075,"c":3.4e-5},{"e":2.085,"c":1.7e-5},{"e":2.095,"c":5e-6},{"e":2.105,"c":1.7e-5},{"e":2.115,"c":1.3e-5},{"e":2.125,"c":5e-6},{"e":2.135,"c":1.7e-5},{"e":2.145,"c":2.2e-5},
{"e":2.155,"c":1.7e-5},{"e":2.165,"c":1.3e-5},{"e":2.175,"c":5e-6},{"e":2.185,"c":1.7e-5},{"e":2.195,"c":2.2e-5},{"e":2.205,"c":5e-6},{"e":2.215,"c":1.7e-5},{"e":2.225,"c":1.7e-5},{"e":2.235,"c":5e-6},{"e":2.245,"c":1.3e-5},{"e":2.255,"c":1.7e-5},{"e":2.265,"c":5e-6},{"e":2.275,"c":3.4e-5},{"e":2.285,"c":1.7e-5},{"e":2.295,"c":5e-6},{"e":2.305,"c":1.7e-5},{"e":2.315,"c":1.3e-5},{"e":2.325,"c":5e-6},{"e":2.335,"c":1.7e-5},{"e":2.345,"c":2.2e-5},
{"e":2.355,"c":1.7e-5},{"e":2.365,"c":1.3e-5},{"e":2.375,"c":5e-6},{"e":2.385,"c":1.7e-5},{"e":2.395,"c":2.2e-5},{"e":2.405,"c":5e-6},{"e":2.415,"c":1.7e-5},{"e":2.425,"c":1.7e-5},{"e":2.435,"c":5e-6},{"e":2.445,"c":1.3e-5},{"e":2.455,"c":1.7e-5},{"e":2.465,"c":5e-6},{"e":2.475,"c":3.4e-5},{"e":2.485,"c":1.7e-5},{"e":2.495,"c":5e-6},{"e":2.505,"c":1.7e-5},{"e":2.515,"c":1.3e-5},{"e":2.525,"c":5e-6},{"e":2.535,"c":1.7e-5},{"e":2.545,"c":2.2e-5},
{"e":2.555,"c":1.7e-5},{"e":2.565,"c":1.3e-5},{"e":2.575,"c":5e-6},{"e":2.585,"c":1.7e-5},{"e":2.595,"c":2.2e-5},{"e":2.605,"c":5e-6},{"e":2.615,"c":1.7e-5},{"e":2.625,"c":1.7e-5},{"e":2.635,"c":5e-6},{"e":2.645,"c":1.3e-5},{"e":2.655,"c":1.7e-5},{"e":2.665,"c":5e-6},{"e":2.675,"c":3.4e-5},{"e":2.685,"c":1.7e-5},{"e":2.695,"c":5e-6},{"e":2.705,"c":1.7e-5},{"e":2.715,"c":1.3e-5},{"e":2.725,"c":5e-6},{"e":2.735,"c":1.7e-5},{"e":2.745,"c":2.2e-5},
{"e":2.755,"c":1.7e-5},{"e":2.765,"c":1.3e-5},{"e":2.775,"c":5e-6},{"e":2.785,"c":1.7e-5},{"e":2.795,"c":2.2e-5},{"e":2.805,"c":5e-6},{"e":2.815,"c":1.7e-5},{"e":2.825,"c":1.7e-5},{"e":2.835,"c":5e-6},{"e":2.845,"c":1.3e-5},{"e":2.855,"c":1.7e-5},{"e":2.865,"c":5e-6},{"e":2.875,"c":3.4e-5},{"e":2.885,"c":1.7e-5},{"e":2.895,"c":5e-6},{"e":2.905,"c":1.7e-5},{"e":2.915,"c":1.3e-5},{"e":2.925,"c":5e-6},{"e":2.935,"c":1.7e-5},{"e":2.945,"c":2.2e-5},
{"e":2.955,"c":1.7e-5},{"e":2.965,"c":1.3e-5},{"e":2.975,"c":5e-6},{"e":2.985,"c":1.7e-5},{"e":2.995,"c":2.2e-5}
],
"labels": [
{"e":1.004,"c":0.00204,"t":"Nokogiriyama underground cell"},
{"e":0.654,"c":0.00059,"t":"Hongo"},
{"e":0.304,"c":0.0000592,"t":"Background"}
]
},
"encoding": {
 "x": {"field": "e", "type": "quantitative", "scale": {"domain": [0, 3], "nice": false, "zero": false},
  "axis": {"values": [0, 0.5, 1, 1.5, 2, 2.5, 3], "format": "~g", "title": "energy[MeV]", "labelFontSize": 18, "titleFontSize": 19, "tickSize": -8, "labelPadding": 19, "titlePadding": 1}},
 "y": {"field": "c", "type": "quantitative", "scale": {"type": "log", "domain": [0.00001, 1], "nice": false},
  "axis": {"values": [0.00001, 0.00002, 0.00005, 0.00008, 0.0001, 0.0002, 0.0005, 0.0008, 0.001, 0.002, 0.005, 0.008, 0.01, 0.02, 0.05, 0.08, 0.1, 0.2, 0.5, 0.8, 1],
   "labelExpr": "datum.value == 1 ? '1' : datum.value == 0.1 ? '0.1' : datum.value == 0.01 ? '0.01' : datum.value == 0.001 ? '0.001' : datum.value == 0.0001 ? '0.0001' : datum.value == 0.00001 ? '1e-05' : ''",
   "title": "[counts/keV/sec]", "labelFontSize": 18, "titleFontSize": 19, "tickSize": -6, "labelPadding": 19, "titlePadding": 12}}
},
"layer": [
 {"data": {"name": "green"}, "mark": {"type": "line", "color": "#207a3a", "strokeWidth": 2.4, "clip": true}},
 {"data": {"name": "blue"}, "mark": {"type": "line", "color": "#1b2a8a", "strokeWidth": 2.4, "clip": true}},
 {"data": {"name": "red"}, "transform": [{"filter": "datum.e <= 1.555"}], "mark": {"type": "line", "color": "#ef2a55", "strokeWidth": 2.0, "clip": true}},
 {"data": {"name": "red"}, "transform": [{"filter": "datum.e >= 1.55"}], "mark": {"type": "line", "color": "#ef2a55", "strokeWidth": 2.8, "clip": true}},
 {"data": {"name": "labels"}, "mark": {"type": "text", "align": "left", "baseline": "middle", "fontSize": 19, "font": "Liberation Sans", "color": "#222"},
  "encoding": {"text": {"field": "t", "type": "nominal"}}}
]
}
